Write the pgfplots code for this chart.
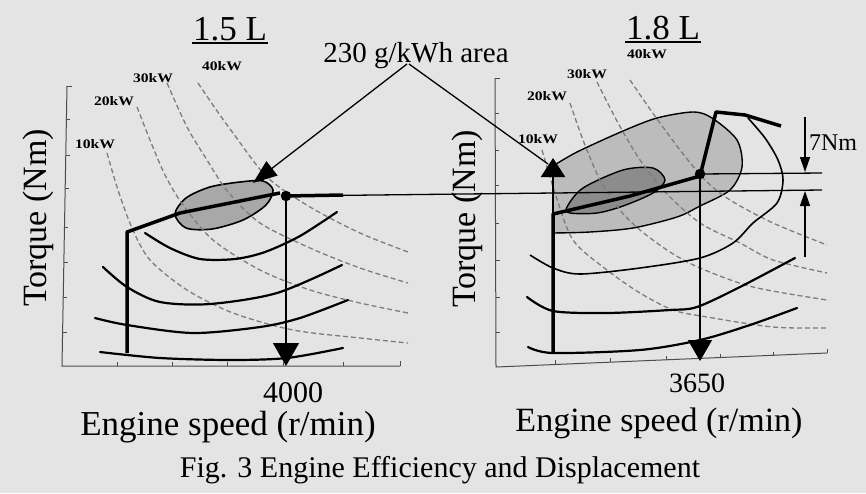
\documentclass[border=0pt]{standalone}
\usepackage{pgfplots}
\pgfplotsset{compat=1.18}
\usepackage{fontspec}
\setmainfont{Liberation Serif}
\usetikzlibrary{arrows.meta}
\definecolor{bg}{RGB}{228,228,228}
\definecolor{dashgray}{RGB}{125,125,125}
\definecolor{ellfill}{RGB}{168,168,168}
\definecolor{outerfill}{RGB}{188,188,188}
\definecolor{innerfill}{RGB}{140,140,140}
\newcommand{\kw}[1]{\scalebox{1.2}[1]{\fontsize{13}{13}\selectfont\bfseries #1}}
\begin{document}
\begin{tikzpicture}
\begin{axis}[x=1pt,y=1pt,xmin=0,xmax=866,ymin=0,ymax=493,y dir=reverse,
  hide axis,clip=false,
  dashcurve/.style={draw=dashgray,line width=1.3pt,dash pattern=on 5pt off 3pt,smooth,no marks},
  curve/.style={black,line width=2.2pt,smooth,no marks,line cap=round},
  thin/.style={black,line width=1.3pt,no marks},
  frame/.style={draw=black!70,line width=1pt,no marks,unbounded coords=jump}]
% background
\addplot[fill=bg,draw=none] coordinates {(0,0)(866,0)(866,493)(0,493)} -- cycle;
% ---------- frames ----------
\addplot[frame] coordinates {(67,86)(62,366)(400,366)};
\addplot[frame] coordinates {(67,86)(72,86)(nan,nan)(66,119)(70,119)(nan,nan)(66,155)(70,155)(nan,nan)(65,188)(69,188)(nan,nan)(64,227)(68,227)(nan,nan)(64,262)(68,262)(nan,nan)(63,297)(67,297)(nan,nan)(63,332)(67,332)
 (nan,nan)(117,366)(117,362)(nan,nan)(172,366)(172,362)(nan,nan)(227,366)(227,362)(nan,nan)(283,366)(283,362)(nan,nan)(343,366)(343,362)(nan,nan)(400,366)(400,361)};
\addplot[frame] coordinates {(495,78)(496,367)(827,353)};
\addplot[frame] coordinates {(495,78)(500,78)(nan,nan)(495,113)(499,113)(nan,nan)(495,150)(499,150)(nan,nan)(495,185)(499,185)(nan,nan)(495,223)(499,223)(nan,nan)(496,260)(500,260)(nan,nan)(496,297)(500,297)(nan,nan)(496,332)(500,332)
 (nan,nan)(555,364)(555,360)(nan,nan)(610,362)(610,358)(nan,nan)(666,360)(666,356)(nan,nan)(720,358)(720,354)(nan,nan)(773,356)(773,352)(nan,nan)(827,353)(827,349)};
% ---------- right panel gray regions ----------
\addplot[fill=outerfill,draw=black,line width=1.4pt,smooth] coordinates {(553,233)(590,232)(633,228)(677,217)(700,206)(730,190)(742,167)(737,140)(712,118)(693,112)(657,118)(623,131)(577,152)(553,166)};
\addplot[fill=innerfill,draw=black,line width=1.4pt,smooth cycle] coordinates {(567,207)(583,188)(623,170)(653,168)(665,180)(653,193)(623,206)(597,213)(570,213)};
% ---------- left ellipse ----------
\addplot[fill=ellfill,draw=black,line width=1.6pt,smooth cycle] coordinates {(175,214)(186,198)(210,187)(240,182)(263,181)(273,190)(266,205)(243,220)(212,229)(186,228)};
% ---------- dashed power curves, left ----------
\addplot[dashcurve] coordinates {(107,153)(118,190)(132,228)(150,260)(187,290)(233,313)(293,330)(360,338)(408,343)};
\addplot[dashcurve] coordinates {(137,107)(150,140)(165,175)(183,205)(213,240)(260,270)(310,290)(360,303)(408,313)};
\addplot[dashcurve] coordinates {(167,83)(187,127)(207,160)(228,192)(260,223)(310,248)(360,268)(408,283)};
\addplot[dashcurve] coordinates {(198,83)(215,108)(233,133)(267,177)(310,207)(360,233)(408,252)};
% ---------- dashed power curves, right ----------
\addplot[dashcurve] coordinates {(542,150)(555,193)(573,240)(607,270)(640,293)(673,310)(707,317)(773,327)(827,328)};
\addplot[dashcurve] coordinates {(570,103)(583,140)(600,180)(620,210)(640,230)(670,252)(700,268)(753,287)(827,300)};
\addplot[dashcurve] coordinates {(597,82)(618,123)(640,160)(665,192)(700,223)(740,243)(773,260)(827,273)};
\addplot[dashcurve] coordinates {(630,80)(652,112)(680,150)(705,180)(730,200)(773,223)(827,245)};
% ---------- torque curves, left ----------
\addplot[curve] coordinates {(145,233)(170,248)(200,259)(235,259)(265,252)(300,236)(337,212)};
\addplot[curve] coordinates {(103,267)(127,287)(160,302)(210,304)(277,293)(342,265)};
\addplot[curve] coordinates {(95,318)(127,325)(193,333)(260,327)(300,318)(348,300)};
\addplot[curve] coordinates {(100,352)(160,358)(230,360)(287,358)(343,348)};
% ---------- torque curves, right ----------
\addplot[black,line width=1.6pt,smooth,no marks] coordinates {(530,255)(553,268)(580,274)(640,268)(700,258)(733,243)(753,223)(777,203)(783,180)(778,160)(765,138)(748,118)};
\addplot[curve] coordinates {(527,297)(553,311)(607,313)(670,310)(697,307)(740,287)(795,258)};
\addplot[curve] coordinates {(528,347)(553,353)(640,350)(700,340)(750,325)(797,308)};
% ---------- operating lines ----------
\addplot[black,line width=3.5pt,no marks,line join=round] coordinates {(127,353)(127,232)(180,213)(280,193)};
\addplot[black,line width=3.5pt,no marks] coordinates {(286,196)(343,195)};
\addplot[thin] coordinates {(286,196)(822,190)};
\addplot[thin] coordinates {(700,174)(822,173)};
\addplot[black,line width=3.5pt,no marks,line join=round] coordinates {(553,352)(553,214)(630,196)(700,176)(716,112)(745,115)(781,126)};
\addplot[black,line width=2.5pt,no marks,-{Triangle[length=19pt,width=24pt]}] coordinates {(553,214)(553,158)};
% vertical arrows to speed axis
\addplot[thin,-{Triangle[length=23pt,width=26pt]}] coordinates {(286,196)(286,366)};
\addplot[thin,-{Triangle[length=21pt,width=24pt]}] coordinates {(700,174)(700,361)};
% 7 Nm arrows
\addplot[thin,-{Triangle[length=15pt,width=10pt]}] coordinates {(805,117)(805,172)};
\addplot[thin,-{Triangle[length=15pt,width=10pt]}] coordinates {(805,257)(805,191)};
% 230 g/kWh arrows
\addplot[thin,-{Triangle[length=24pt,width=18pt]}] coordinates {(407,64)(253,183)};
\addplot[thin] coordinates {(409,64)(548,164)};
% dots
\addplot[only marks,mark=*,mark size=5pt,black] coordinates {(286,196)(700,174)};
% underlines
\addplot[black,line width=2.5pt,no marks] coordinates {(192,43)(268,43)};
\addplot[black,line width=2.5pt,no marks] coordinates {(625,42)(701,42)};
% ---------- texts ----------
\node[anchor=base,font=\fontsize{35}{35}\selectfont] at (axis cs:230,40) {1.5 L};
\node[anchor=base,font=\fontsize{35}{35}\selectfont] at (axis cs:663,39) {1.8 L};
\node[anchor=base,font=\fontsize{29}{29}\selectfont] at (axis cs:416,62) {230 g/kWh area};
\node[anchor=base] at (axis cs:222,70) {\kw{40kW}};
\node[anchor=base] at (axis cs:153,82) {\kw{30kW}};
\node[anchor=base] at (axis cs:114,105) {\kw{20kW}};
\node[anchor=base] at (axis cs:95,148) {\kw{10kW}};
\node[anchor=base] at (axis cs:647,58) {\kw{40kW}};
\node[anchor=base] at (axis cs:587,78) {\kw{30kW}};
\node[anchor=base] at (axis cs:547,100) {\kw{20kW}};
\node[anchor=base] at (axis cs:538,143) {\kw{10kW}};
\node[anchor=base,font=\fontsize{24}{24}\selectfont] at (axis cs:833,150) {7Nm};
\node[rotate=90,font=\fontsize{34}{34}\selectfont] at (axis cs:38,218) {Torque (Nm)};
\node[rotate=90,font=\fontsize{34}{34}\selectfont] at (axis cs:467,219) {Torque (Nm)};
\node[anchor=base,font=\fontsize{30}{30}\selectfont] at (axis cs:293,402) {4000};
\node[anchor=base,font=\fontsize{28}{28}\selectfont] at (axis cs:697,392) {3650};
\node[anchor=base,font=\fontsize{35}{35}\selectfont] at (axis cs:228,435) {Engine speed (r/min)};
\node[anchor=base,font=\fontsize{34}{34}\selectfont] at (axis cs:659,431) {Engine speed (r/min)};
\node[anchor=base,font=\fontsize{30}{30}\selectfont] at (axis cs:440,477) {Fig. 3 Engine Efficiency and Displacement};
\end{axis}
\end{tikzpicture}
\end{document}
